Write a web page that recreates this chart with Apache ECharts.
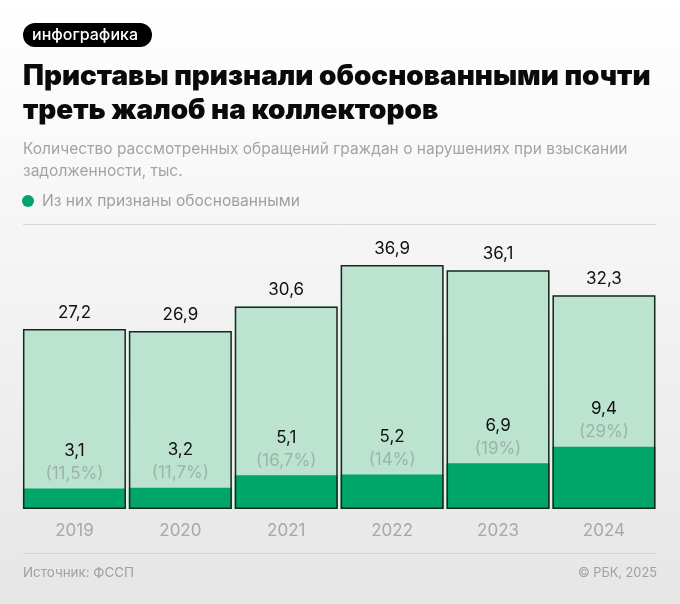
<!DOCTYPE html>
<html><head><meta charset="utf-8">
<style>html,body{margin:0;padding:0;background:#fff}#c{width:680px;height:604px}</style>
<script src="https://cdn.jsdelivr.net/npm/echarts@6/dist/echarts.min.js"></script>
</head><body><div id="c"></div>
<script>
const years = ['2019','2020','2021','2022','2023','2024'];
const totals = [27.2,26.9,30.6,36.9,36.1,32.3];
const justified = [3.1,3.2,5.1,5.2,6.9,9.4];
const shares = ['11,5%','11,7%','16,7%','14%','19%','29%'];
const tag = 'инфографика';
const titleLines = ['Приставы признали обоснованными почти','треть жалоб на коллекторов'];
const subLines = ['Количество рассмотренных обращений граждан о нарушениях при взыскании','задолженности, тыс.'];
const legendName = 'Из них признаны обоснованными';
const source = 'Источник: ФССП';
const copyright = '© РБК, 2025';
const F = 'Inter, "Noto Sans", sans-serif';
const comma = v => String(v).replace('.', ',');
const chart = echarts.init(document.getElementById('c'), null, {renderer:'canvas'});
chart.setOption({
  animation:false,
  backgroundColor:new echarts.graphic.LinearGradient(0,0,0,1,[{offset:0,color:'#ffffff'},{offset:1,color:'#e6e6e6'}]),
  grid:{left:21.5,width:635.4,top:244.4,height:264.6},
  legend:{left:17,top:191,data:[legendName],icon:'circle',itemWidth:12,itemHeight:12,itemGap:10,
    textStyle:{fontFamily:F,fontSize:15.6,color:'#a0a0a0',padding:[0,0,0,3]},padding:[2,5]},
  xAxis:{type:'category',data:years,axisLine:{show:false},axisTick:{show:false},
    axisLabel:{fontFamily:F,fontSize:17,color:'#a8a8a8',margin:13}},
  yAxis:{type:'value',min:0,max:40,show:false,splitLine:{show:false}},
  series:[
    {name:'Всего',type:'bar',data:totals,barWidth:103,barGap:'-100%',z:1,itemStyle:{color:'#bbe3d0'},legendHoverLink:false},
    {name:legendName,type:'bar',data:justified,barWidth:103,barGap:'-100%',z:2,itemStyle:{color:'#00a56a'},
      label:{show:true,position:'top',distance:3.5,
        formatter:p=>`{v|${comma(p.value)}}\n{s|(${shares[p.dataIndex]})}`,
        rich:{v:{fontFamily:F,fontSize:17,color:'#111',lineHeight:24,align:'center'},
              s:{fontFamily:F,fontSize:17,color:'#9db3a8',lineHeight:22,align:'center'}}}},
    {name:'Контур',type:'bar',data:totals,barWidth:103,barGap:'-100%',z:3,
      itemStyle:{color:'rgba(0,0,0,0)',borderColor:'#16291f',borderWidth:1.5},
      label:{show:true,position:'top',distance:8,formatter:p=>comma(p.value),
        fontFamily:F,fontSize:17,color:'#111'}}
  ],
  graphic:[
    {type:'rect',shape:{x:23,y:23,width:129,height:24,r:12},style:{fill:'#000'}},
    {type:'text',x:32,y:35,style:{text:tag,fontFamily:F,fontSize:16,fontWeight:500,fill:'#fff',textVerticalAlign:'middle'}},
    {type:'text',x:23,y:77,style:{text:titleLines[0],fontFamily:F,fontSize:27.9,fontWeight:900,fill:'#0a0a0a',textVerticalAlign:'middle'}},
    {type:'text',x:23,y:111,style:{text:titleLines[1],fontFamily:F,fontSize:27.9,fontWeight:900,fill:'#0a0a0a',textVerticalAlign:'middle'}},
    {type:'text',x:23,y:149,style:{text:subLines[0],fontFamily:F,fontSize:15.5,fill:'#a3a3a3',textVerticalAlign:'middle'}},
    {type:'text',x:23,y:171,style:{text:subLines[1],fontFamily:F,fontSize:15.5,fill:'#a3a3a3',textVerticalAlign:'middle'}},
    {type:'line',shape:{x1:23,y1:224.5,x2:656,y2:224.5},style:{stroke:'#d9d9d9',lineWidth:1}},
    {type:'line',shape:{x1:23,y1:553.5,x2:656,y2:553.5},style:{stroke:'#d4d4d4',lineWidth:1}},
    {type:'text',x:23,y:573,style:{text:source,fontFamily:F,fontSize:13.4,fill:'#a0a0a0',textVerticalAlign:'middle'}},
    {type:'text',x:657,y:573,style:{text:copyright,fontFamily:F,fontSize:12.8,fill:'#a0a0a0',textAlign:'right',textVerticalAlign:'middle'}}
  ]
});
</script></body></html>
